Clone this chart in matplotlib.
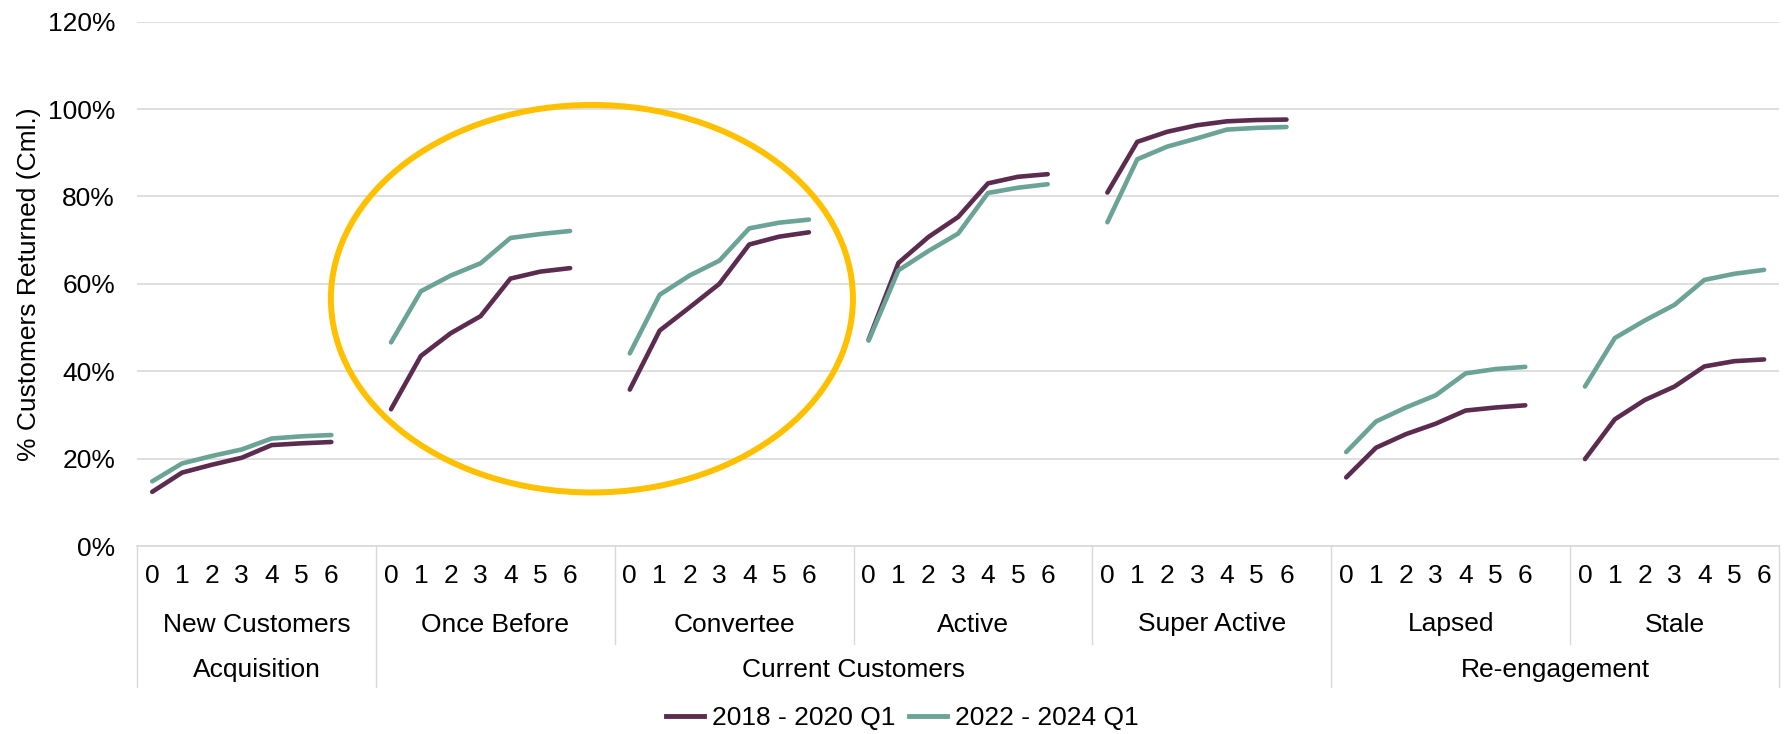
import matplotlib
matplotlib.use("Agg")
import matplotlib.pyplot as plt
import matplotlib.transforms as mtransforms
from matplotlib.patches import Ellipse
from matplotlib.ticker import PercentFormatter, MultipleLocator
from matplotlib.lines import Line2D

plt.rcParams["font.family"] = ["Liberation Sans", "DejaVu Sans"]

# ---- data -------------------------------------------------------------
groups = ["Acquisition", "Current Customers", "Re-engagement"]
segments = ["New Customers", "Once Before", "Convertee", "Active",
            "Super Active", "Lapsed", "Stale"]
segment_group = [0, 1, 1, 1, 1, 2, 2]
periods = [0, 1, 2, 3, 4, 5, 6]
series_names = ["2018 - 2020 Q1", "2022 - 2024 Q1"]

# cumulative % of customers returned, per segment, by period
returned_2018_2020 = [
    [12.4, 16.8, 18.6, 20.2, 23.1, 23.5, 23.8],
    [31.3, 43.5, 48.7, 52.6, 61.2, 62.8, 63.6],
    [35.8, 49.3, 54.6, 60.0, 69.0, 70.8, 71.8],
    [47.2, 64.8, 70.7, 75.3, 83.0, 84.5, 85.1],
    [80.9, 92.5, 94.8, 96.3, 97.2, 97.5, 97.6],
    [15.7, 22.5, 25.6, 28.0, 31.0, 31.7, 32.2],
    [19.9, 29.0, 33.4, 36.5, 41.1, 42.3, 42.7],
]
returned_2022_2024 = [
    [14.8, 18.9, 20.6, 22.1, 24.6, 25.1, 25.4],
    [46.6, 58.3, 61.9, 64.7, 70.5, 71.4, 72.1],
    [44.1, 57.5, 61.9, 65.3, 72.7, 74.0, 74.7],
    [47.0, 63.1, 67.5, 71.5, 80.8, 82.0, 82.8],
    [74.1, 88.5, 91.4, 93.3, 95.3, 95.7, 95.9],
    [21.5, 28.5, 31.7, 34.5, 39.5, 40.5, 41.0],
    [36.5, 47.6, 51.6, 55.2, 60.9, 62.3, 63.2],
]

# ---- styling ------------------------------------------------------------
C_EARLY = "#5B2C4F"
C_RECENT = "#6BA396"
C_GRID = "#D9D9D9"
C_HIGHLIGHT = "#FFC000"
FS = 19

W, H = 1787, 734
fig = plt.figure(figsize=(W / 100, H / 100), dpi=100)
left, right, top, bottom = 137.3, 1779, 21.7, 546
ax = fig.add_axes([left / W, 1 - bottom / H, (right - left) / W, (bottom - top) / H])

slot = len(periods) + 1  # one empty category between segments
n_slots = slot * len(segments) - 1

xticks, xlabels = [], []
for i, seg in enumerate(segments):
    xs = [i * slot + p for p in periods]
    ax.plot(xs, returned_2018_2020[i], color=C_EARLY, lw=3.3,
            solid_capstyle="round", solid_joinstyle="round", zorder=3)
    ax.plot(xs, returned_2022_2024[i], color=C_RECENT, lw=3.3,
            solid_capstyle="round", solid_joinstyle="round", zorder=3)
    xticks += xs
    xlabels += [str(p) for p in periods]

ax.set_xlim(-0.5, n_slots - 0.5)
ax.set_ylim(0, 120)
ax.yaxis.set_major_locator(MultipleLocator(20))
ax.yaxis.set_major_formatter(PercentFormatter(100, decimals=0))
ax.grid(axis="y", color=C_GRID, lw=1.2)
ax.set_axisbelow(True)
for s in ["top", "right", "left"]:
    ax.spines[s].set_visible(False)
ax.spines["bottom"].set_color(C_GRID)
ax.spines["bottom"].set_linewidth(1.2)

ax.set_xticks(xticks)
ax.set_xticklabels(xlabels, fontsize=FS)
ax.tick_params(axis="x", length=0, pad=13)
ax.tick_params(axis="y", length=0, pad=16, labelsize=FS)
ax.set_ylabel("% Customers Returned (Cml.)", fontsize=FS, labelpad=5)

# multi-level category axis
trans = mtransforms.blended_transform_factory(ax.transData, fig.transFigure)
y_axis = 1 - bottom / H
y_seg_line = 1 - 644 / H
y_grp_line = 1 - 687 / H
y_seg_text = 1 - 624.5 / H
y_grp_text = 1 - 670 / H

seg_edges = [i * slot - 0.5 for i in range(len(segments))] + [n_slots - 0.5]
grp_starts = [segment_group.index(g) for g in range(len(groups))]
grp_edges = [seg_edges[k] for k in grp_starts] + [seg_edges[-1]]

for xe in seg_edges:
    y_end = y_grp_line if xe in grp_edges else y_seg_line
    ax.plot([xe, xe], [y_axis, y_end], transform=trans, color=C_GRID,
            lw=1.0, clip_on=False)

for i, seg in enumerate(segments):
    xc = (seg_edges[i] + seg_edges[i + 1]) / 2
    ax.text(xc, y_seg_text, seg, transform=trans, ha="center", va="center",
            fontsize=FS)
for g, name in enumerate(groups):
    xc = (grp_edges[g] + grp_edges[g + 1]) / 2
    ax.text(xc, y_grp_text, name, transform=trans, ha="center", va="center",
            fontsize=FS)

# highlight around the Once Before / Convertee segments
ring = Ellipse((14.73, 56.6), width=17.49, height=88.7, fill=False,
               edgecolor=C_HIGHLIGHT, lw=4.3, clip_on=False, zorder=4)
ax.add_patch(ring)

handles = [Line2D([], [], color=C_EARLY, lw=3.5),
           Line2D([], [], color=C_RECENT, lw=3.5)]
fig.legend(handles, series_names, loc="center", bbox_to_anchor=(0.505, 1 - 718 / H),
           ncol=2, frameon=False, fontsize=FS, handlelength=1.45,
           handletextpad=0.3, columnspacing=0.5)

fig.savefig("out.png", dpi=100)
